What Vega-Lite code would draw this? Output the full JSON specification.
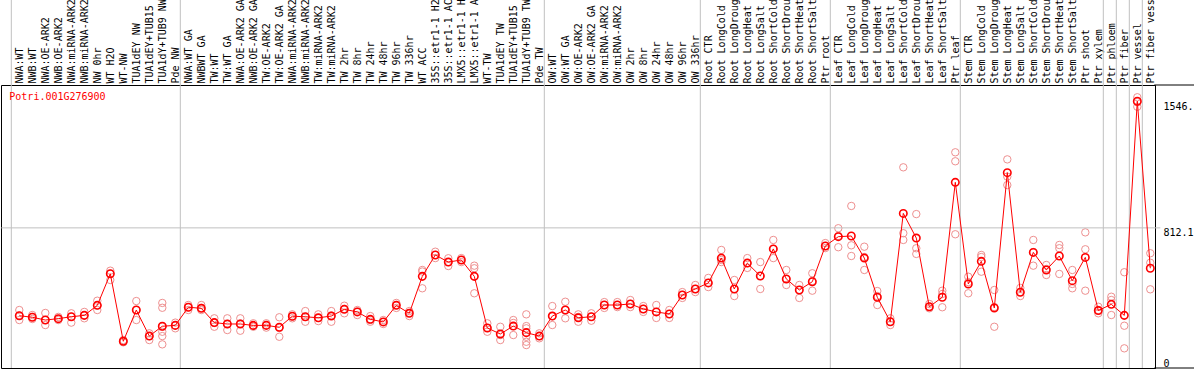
{
"$schema": "https://vega.github.io/schema/vega-lite/v6.json",
"width": 1154, "height": 283,
"autosize": "none",
"padding": {"left": 1, "top": 85, "right": 39, "bottom": 2},
"background": "white",
"config": {"view": {"stroke": "black", "strokeWidth": 1}, "axis": {"labelFont": "DejaVu Sans Mono", "labelFontSize": 10, "labelColor": "black"}},
"datasets": {
"means": [
{"s":"NWA:WT","v":303},{"s":"NWB:WT","v":294},{"s":"NWA:OE-ARK2","v":278},{"s":"NWB:OE-ARK2","v":286},{"s":"NWA:miRNA-ARK2","v":297},{"s":"NWB:miRNA-ARK2","v":305},{"s":"NW 0hr","v":363},{"s":"WT H2O","v":546},{"s":"WT-NW","v":155},{"s":"TUA1dEY NW","v":336},{"s":"TUA1dEY+TUB15 NW","v":185},{"s":"TUA1dY+TUB9 NW","v":242},{"s":"Pde NW","v":247},
{"s":"NWA:WT GA","v":352},{"s":"NWBWT GA","v":346},{"s":"TW:WT","v":263},{"s":"TW:WT GA","v":255},{"s":"NWA:OE-ARK2 GA","v":255},{"s":"NWB:OE-ARK2 GA","v":247},{"s":"TW:OE-ARK2","v":247},{"s":"TW:OE-ARK2 GA","v":236},{"s":"NWA:miRNA-ARK2 GA","v":300},{"s":"NWB:miRNA-ARK2 GA","v":297},{"s":"TW:miRNA-ARK2","v":291},{"s":"TW:miRNA-ARK2 GA","v":301},{"s":"TW 2hr","v":340},{"s":"TW 8hr","v":325},{"s":"TW 24hr","v":282},{"s":"TW 48hr","v":267},{"s":"TW 96hr","v":363},{"s":"TW 336hr","v":317},{"s":"WT ACC","v":531},{"s":"35S::etr1-1 H2O","v":655},{"s":"35S::etr1-1 ACC","v":614},{"s":"LMX5::etr1-1 H2O","v":626},{"s":"LMX5::etr1-1 ACC","v":531},{"s":"WT-TW","v":232},{"s":"TUA1dEY TW","v":197},{"s":"TUA1dEY+TUB15 TW","v":243},{"s":"TUA1dY+TUB9 TW","v":205},{"s":"Pde TW","v":185},
{"s":"OW:WT","v":301},{"s":"OW:WT GA","v":336},{"s":"OW:OE-ARK2","v":291},{"s":"OW:OE-ARK2 GA","v":297},{"s":"OW:miRNA-ARK2","v":365},{"s":"OW:miRNA-ARK2 GA","v":365},{"s":"OW 2hr","v":371},{"s":"OW 8hr","v":342},{"s":"OW 24hr","v":325},{"s":"OW 48hr","v":313},{"s":"OW 96hr","v":423},{"s":"OW 336hr","v":458},
{"s":"Root CTR","v":493},{"s":"Root LongCold","v":637},{"s":"Root LongDrought","v":458},{"s":"Root LongHeat","v":608},{"s":"Root LongSalt","v":533},{"s":"Root ShortCold","v":690},{"s":"Root ShortDrought","v":516},{"s":"Root ShortHeat","v":452},{"s":"Root ShortSalt","v":500},{"s":"Ptr root","v":707},
{"s":"Leaf CTR","v":761},{"s":"Leaf LongCold","v":765},{"s":"Leaf LongDrought","v":637},{"s":"Leaf LongHeat","v":410},{"s":"Leaf LongSalt","v":268},{"s":"Leaf ShortCold","v":896},{"s":"Leaf ShortDrought","v":753},{"s":"Leaf ShortHeat","v":355},{"s":"Leaf ShortSalt","v":410},{"s":"Ptr leaf","v":1076},
{"s":"Stem CTR","v":487},{"s":"Stem LongCold","v":618},{"s":"Stem LongDrought","v":348},{"s":"Stem LongHeat","v":1132},{"s":"Stem LongSalt","v":439},{"s":"Stem ShortCold","v":670},{"s":"Stem ShortDrought","v":568},{"s":"Stem ShortHeat","v":649},{"s":"Stem ShortSalt","v":506},{"s":"Ptr shoot","v":641},
{"s":"Ptr xylem","v":333},{"s":"Ptr phloem","v":369},{"s":"Ptr fiber","v":305},{"s":"Ptr vessel","v":1546},{"s":"Ptr fiber vessel","v":578}
],
"reps": [
{"s":"NWA:WT","v":336},{"s":"NWA:WT","v":303},{"s":"NWA:WT","v":278},
{"s":"NWB:WT","v":307},{"s":"NWB:WT","v":296},{"s":"NWB:WT","v":284},
{"s":"NWA:OE-ARK2","v":319},{"s":"NWA:OE-ARK2","v":278},{"s":"NWA:OE-ARK2","v":249},
{"s":"NWB:OE-ARK2","v":296},{"s":"NWB:OE-ARK2","v":284},{"s":"NWB:OE-ARK2","v":278},
{"s":"NWA:miRNA-ARK2","v":317},{"s":"NWA:miRNA-ARK2","v":297},{"s":"NWA:miRNA-ARK2","v":263},
{"s":"NWB:miRNA-ARK2","v":325},{"s":"NWB:miRNA-ARK2","v":305},{"s":"NWB:miRNA-ARK2","v":288},
{"s":"NW 0hr","v":390},{"s":"NW 0hr","v":363},{"s":"NW 0hr","v":336},
{"s":"WT H2O","v":564},{"s":"WT H2O","v":546},{"s":"WT H2O","v":510},
{"s":"WT-NW","v":162},{"s":"WT-NW","v":149},{"s":"WT-NW","v":156},
{"s":"TUA1dEY NW","v":388},{"s":"TUA1dEY NW","v":336},{"s":"TUA1dEY NW","v":278},
{"s":"TUA1dEY+TUB15 NW","v":201},{"s":"TUA1dEY+TUB15 NW","v":185},{"s":"TUA1dEY+TUB15 NW","v":162},
{"s":"TUA1dY+TUB9 NW","v":377},{"s":"TUA1dY+TUB9 NW","v":349},{"s":"TUA1dY+TUB9 NW","v":239},{"s":"TUA1dY+TUB9 NW","v":210},{"s":"TUA1dY+TUB9 NW","v":185},{"s":"TUA1dY+TUB9 NW","v":137},
{"s":"Pde NW","v":263},{"s":"Pde NW","v":247},{"s":"Pde NW","v":230},
{"s":"NWA:WT GA","v":365},{"s":"NWA:WT GA","v":352},{"s":"NWA:WT GA","v":336},
{"s":"NWBWT GA","v":365},{"s":"NWBWT GA","v":336},{"s":"NWBWT GA","v":348},
{"s":"TW:WT","v":288},{"s":"TW:WT","v":239},{"s":"TW:WT","v":261},
{"s":"TW:WT GA","v":288},{"s":"TW:WT GA","v":220},{"s":"TW:WT GA","v":255},
{"s":"NWA:OE-ARK2 GA","v":288},{"s":"NWA:OE-ARK2 GA","v":216},{"s":"NWA:OE-ARK2 GA","v":258},
{"s":"NWB:OE-ARK2 GA","v":259},{"s":"NWB:OE-ARK2 GA","v":239},{"s":"NWB:OE-ARK2 GA","v":243},
{"s":"TW:OE-ARK2","v":259},{"s":"TW:OE-ARK2","v":234},{"s":"TW:OE-ARK2","v":249},
{"s":"TW:OE-ARK2 GA","v":294},{"s":"TW:OE-ARK2 GA","v":181},{"s":"TW:OE-ARK2 GA","v":232},
{"s":"NWA:miRNA-ARK2 GA","v":311},{"s":"NWA:miRNA-ARK2 GA","v":288},{"s":"NWA:miRNA-ARK2 GA","v":298},
{"s":"NWB:miRNA-ARK2 GA","v":330},{"s":"NWB:miRNA-ARK2 GA","v":268},{"s":"NWB:miRNA-ARK2 GA","v":296},
{"s":"TW:miRNA-ARK2","v":311},{"s":"TW:miRNA-ARK2","v":272},{"s":"TW:miRNA-ARK2","v":290},
{"s":"TW:miRNA-ARK2 GA","v":330},{"s":"TW:miRNA-ARK2 GA","v":268},{"s":"TW:miRNA-ARK2 GA","v":304},
{"s":"TW 2hr","v":361},{"s":"TW 2hr","v":317},{"s":"TW 2hr","v":342},
{"s":"TW 8hr","v":336},{"s":"TW 8hr","v":307},{"s":"TW 8hr","v":327},
{"s":"TW 24hr","v":301},{"s":"TW 24hr","v":268},{"s":"TW 24hr","v":278},
{"s":"TW 48hr","v":278},{"s":"TW 48hr","v":255},{"s":"TW 48hr","v":267},
{"s":"TW 96hr","v":377},{"s":"TW 96hr","v":348},{"s":"TW 96hr","v":365},
{"s":"TW 336hr","v":330},{"s":"TW 336hr","v":301},{"s":"TW 336hr","v":319},
{"s":"WT ACC","v":568},{"s":"WT ACC","v":462},{"s":"WT ACC","v":559},
{"s":"35S::etr1-1 H2O","v":674},{"s":"35S::etr1-1 H2O","v":655},{"s":"35S::etr1-1 H2O","v":637},
{"s":"35S::etr1-1 ACC","v":636},{"s":"35S::etr1-1 ACC","v":591},{"s":"35S::etr1-1 ACC","v":614},
{"s":"LMX5::etr1-1 H2O","v":637},{"s":"LMX5::etr1-1 H2O","v":614},{"s":"LMX5::etr1-1 H2O","v":626},
{"s":"LMX5::etr1-1 ACC","v":593},{"s":"LMX5::etr1-1 ACC","v":578},{"s":"LMX5::etr1-1 ACC","v":433},
{"s":"WT-TW","v":259},{"s":"WT-TW","v":210},{"s":"WT-TW","v":232},
{"s":"TUA1dEY TW","v":239},{"s":"TUA1dEY TW","v":162},{"s":"TUA1dEY TW","v":191},
{"s":"TUA1dEY+TUB15 TW","v":278},{"s":"TUA1dEY+TUB15 TW","v":191},{"s":"TUA1dEY+TUB15 TW","v":261},
{"s":"TUA1dY+TUB9 TW","v":311},{"s":"TUA1dY+TUB9 TW","v":243},{"s":"TUA1dY+TUB9 TW","v":230},{"s":"TUA1dY+TUB9 TW","v":205},{"s":"TUA1dY+TUB9 TW","v":181},{"s":"TUA1dY+TUB9 TW","v":152},{"s":"TUA1dY+TUB9 TW","v":133},
{"s":"Pde TW","v":201},{"s":"Pde TW","v":172},{"s":"Pde TW","v":185},
{"s":"OW:WT","v":359},{"s":"OW:WT","v":249},{"s":"OW:WT","v":301},
{"s":"OW:WT GA","v":384},{"s":"OW:WT GA","v":288},{"s":"OW:WT GA","v":336},
{"s":"OW:OE-ARK2","v":311},{"s":"OW:OE-ARK2","v":268},{"s":"OW:OE-ARK2","v":296},
{"s":"OW:OE-ARK2 GA","v":317},{"s":"OW:OE-ARK2 GA","v":274},{"s":"OW:OE-ARK2 GA","v":297},
{"s":"OW:miRNA-ARK2","v":382},{"s":"OW:miRNA-ARK2","v":348},{"s":"OW:miRNA-ARK2","v":365},
{"s":"OW:miRNA-ARK2 GA","v":382},{"s":"OW:miRNA-ARK2 GA","v":365},{"s":"OW:miRNA-ARK2 GA","v":353},
{"s":"OW 2hr","v":394},{"s":"OW 2hr","v":371},{"s":"OW 2hr","v":353},
{"s":"OW 8hr","v":359},{"s":"OW 8hr","v":342},{"s":"OW 8hr","v":325},
{"s":"OW 24hr","v":365},{"s":"OW 24hr","v":290},{"s":"OW 24hr","v":325},
{"s":"OW 48hr","v":336},{"s":"OW 48hr","v":290},{"s":"OW 48hr","v":313},
{"s":"OW 96hr","v":440},{"s":"OW 96hr","v":423},{"s":"OW 96hr","v":406},
{"s":"OW 336hr","v":481},{"s":"OW 336hr","v":458},{"s":"OW 336hr","v":440},
{"s":"Root CTR","v":522},{"s":"Root CTR","v":493},{"s":"Root CTR","v":469},
{"s":"Root LongCold","v":684},{"s":"Root LongCold","v":626},{"s":"Root LongCold","v":614},
{"s":"Root LongDrought","v":510},{"s":"Root LongDrought","v":458},{"s":"Root LongDrought","v":417},
{"s":"Root LongHeat","v":637},{"s":"Root LongHeat","v":608},{"s":"Root LongHeat","v":580},
{"s":"Root LongSalt","v":614},{"s":"Root LongSalt","v":533},{"s":"Root LongSalt","v":458},
{"s":"Root ShortCold","v":742},{"s":"Root ShortCold","v":690},{"s":"Root ShortCold","v":637},
{"s":"Root ShortDrought","v":568},{"s":"Root ShortDrought","v":516},{"s":"Root ShortDrought","v":481},
{"s":"Root ShortHeat","v":481},{"s":"Root ShortHeat","v":452},{"s":"Root ShortHeat","v":406},
{"s":"Root ShortSalt","v":549},{"s":"Root ShortSalt","v":448},{"s":"Root ShortSalt","v":504},
{"s":"Ptr root","v":724},{"s":"Ptr root","v":695},{"s":"Ptr root","v":707},
{"s":"Leaf CTR","v":810},{"s":"Leaf CTR","v":700},{"s":"Leaf CTR","v":765},
{"s":"Leaf LongCold","v":939},{"s":"Leaf LongCold","v":711},{"s":"Leaf LongCold","v":649},
{"s":"Leaf LongDrought","v":703},{"s":"Leaf LongDrought","v":568},{"s":"Leaf LongDrought","v":643},
{"s":"Leaf LongHeat","v":446},{"s":"Leaf LongHeat","v":365},{"s":"Leaf LongHeat","v":417},
{"s":"Leaf LongSalt","v":288},{"s":"Leaf LongSalt","v":249},{"s":"Leaf LongSalt","v":268},
{"s":"Leaf ShortCold","v":1163},{"s":"Leaf ShortCold","v":781},{"s":"Leaf ShortCold","v":742},
{"s":"Leaf ShortDrought","v":892},{"s":"Leaf ShortDrought","v":694},{"s":"Leaf ShortDrought","v":661},
{"s":"Leaf ShortHeat","v":371},{"s":"Leaf ShortHeat","v":346},{"s":"Leaf ShortHeat","v":355},
{"s":"Leaf ShortSalt","v":448},{"s":"Leaf ShortSalt","v":352},{"s":"Leaf ShortSalt","v":429},
{"s":"Ptr leaf","v":1250},{"s":"Ptr leaf","v":1198},{"s":"Ptr leaf","v":775},
{"s":"Stem CTR","v":529},{"s":"Stem CTR","v":433},{"s":"Stem CTR","v":498},
{"s":"Stem LongCold","v":655},{"s":"Stem LongCold","v":558},{"s":"Stem LongCold","v":643},
{"s":"Stem LongDrought","v":452},{"s":"Stem LongDrought","v":239},{"s":"Stem LongDrought","v":353},
{"s":"Stem LongHeat","v":1209},{"s":"Stem LongHeat","v":1109},{"s":"Stem LongHeat","v":1060},
{"s":"Stem LongSalt","v":464},{"s":"Stem LongSalt","v":417},{"s":"Stem LongSalt","v":440},
{"s":"Stem ShortCold","v":742},{"s":"Stem ShortCold","v":593},{"s":"Stem ShortCold","v":672},
{"s":"Stem ShortDrought","v":597},{"s":"Stem ShortDrought","v":539},{"s":"Stem ShortDrought","v":574},
{"s":"Stem ShortHeat","v":713},{"s":"Stem ShortHeat","v":694},{"s":"Stem ShortHeat","v":545},
{"s":"Stem ShortSalt","v":568},{"s":"Stem ShortSalt","v":462},{"s":"Stem ShortSalt","v":487},
{"s":"Ptr shoot","v":786},{"s":"Ptr shoot","v":688},{"s":"Ptr shoot","v":448},
{"s":"Ptr xylem","v":355},{"s":"Ptr xylem","v":317},{"s":"Ptr xylem","v":336},
{"s":"Ptr phloem","v":413},{"s":"Ptr phloem","v":394},{"s":"Ptr phloem","v":307},
{"s":"Ptr fiber","v":555},{"s":"Ptr fiber","v":245},{"s":"Ptr fiber","v":114},
{"s":"Ptr vessel","v":1569},{"s":"Ptr vessel","v":1514},{"s":"Ptr vessel","v":1541},
{"s":"Ptr fiber vessel","v":665},{"s":"Ptr fiber vessel","v":610},{"s":"Ptr fiber vessel","v":456}
],
"seps": [
{"s":"NWA:WT"},{"s":"NWA:WT GA"},{"s":"OW:WT"},{"s":"Root CTR"},{"s":"Leaf CTR"},{"s":"Stem CTR"},{"s":"Ptr phloem"},{"s":"Ptr fiber"},{"s":"Ptr vessel"},{"s":"Ptr fiber vessel"}
]
},
"layer": [
{
"data": {"name": "reps"},
"mark": {"type": "point", "shape": "circle", "filled": false, "color": "#ee9090", "strokeWidth": 1, "size": 55, "opacity": 1},
"encoding": {
"x": {"field": "s", "type": "nominal", "sort": null,
"scale": {"type": "point", "padding": 0.8846, "align": 0.7957},
"axis": {"orient": "top", "title": null, "labelAngle": -90, "labelPadding": 2, "ticks": false, "domain": false, "grid": false, "labelOverlap": false, "labelBound": false, "labelExpr": "substring(datum.label, 0, 14)"}},
"y": {"field": "v", "type": "quantitative",
"scale": {"domain": [0, 1640], "nice": false, "zero": true},
"axis": {"orient": "right", "title": null, "values": [0, 812.1, 1546.3], "labelExpr": "substring(toString(datum.value), 0, 5)", "ticks": false, "grid": false, "domain": true, "domainColor": "black", "domainWidth": 1, "labelPadding": 8, "labelFlush": false, "labelBaseline": {"condition": {"test": "datum.value == 0", "value": "bottom"}, "value": "top"}}}
}
},
{
"data": {"name": "seps"},
"mark": {"type": "rule", "color": "#c0c0c0", "strokeWidth": 1, "xOffset": -8},
"encoding": {
"x": {"field": "s", "type": "nominal", "sort": null},
"y": {"datum": 0},
"y2": {"datum": 2135}
}
},
{
"data": {"values": [{"g": 812.1}]},
"mark": {"type": "rule", "color": "#c0c0c0", "strokeWidth": 1, "xOffset": -18, "x2Offset": 10},
"encoding": {
"x": {"datum": "NWA:WT", "type": "nominal"},
"x2": {"datum": "Ptr fiber vessel"},
"y": {"field": "g", "type": "quantitative"}
}
},
{
"data": {"values": [{"g": 0}, {"g": 1640}]},
"mark": {"type": "rule", "color": "black", "strokeWidth": 1, "xOffset": 4, "x2Offset": 45},
"encoding": {
"x": {"datum": "Ptr fiber vessel", "type": "nominal"},
"x2": {"datum": "Ptr fiber vessel"},
"y": {"field": "g", "type": "quantitative"}
}
},
{
"data": {"name": "means"},
"mark": {"type": "line", "color": "#ff0000", "strokeWidth": 1},
"encoding": {
"x": {"field": "s", "type": "nominal", "sort": null},
"y": {"field": "v", "type": "quantitative"}
}
},
{
"data": {"name": "means"},
"mark": {"type": "point", "shape": "circle", "filled": false, "color": "#ff0000", "strokeWidth": 1.6, "size": 55, "opacity": 1},
"encoding": {
"x": {"field": "s", "type": "nominal", "sort": null},
"y": {"field": "v", "type": "quantitative"}
}
},
{
"data": {"values": [{"t": "Potri.001G276900", "p": 1572}]},
"mark": {"type": "text", "color": "#ff0000", "font": "DejaVu Sans Mono", "fontSize": 10, "align": "left", "baseline": "middle", "dx": -10},
"encoding": {
"x": {"datum": "NWA:WT", "type": "nominal"},
"y": {"field": "p", "type": "quantitative"},
"text": {"field": "t"}
}
}
]
}
